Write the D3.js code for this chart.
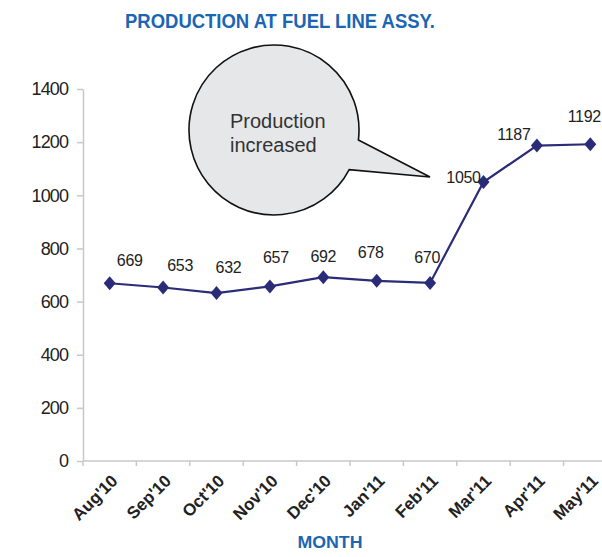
<!DOCTYPE html>
<html><head><meta charset="utf-8">
<script src="https://cdn.jsdelivr.net/npm/d3@7"></script>
<style>
body{margin:0;background:#fff;}
svg{display:block;font-family:"Liberation Sans",Arial,sans-serif;}
</style></head>
<body>
<svg id="chart" width="602" height="557"></svg>
<script>
const months = ["Aug'10","Sep'10","Oct'10","Nov'10","Dec'10","Jan'11","Feb'11","Mar'11","Apr'11","May'11"];
const production = [669,653,632,657,692,678,670,1050,1187,1192];
const yTicks = [0,200,400,600,800,1000,1200,1400];
// label placement offsets (layout only) relative to each marker
const labelDx = [20,17,12,6,0,-6,-3,-20,-23,-6];
const labelDy = [-17,-16,-20,-23,-15,-23,-20,1,-6,-22];

const svg = d3.select("#chart");
const blue = "#1a66b3", navy = "#2a2c78", axisCol = "#c8c8c8";

const x = d3.scaleBand().domain(months).range([83, 617]).padding(0);
const y = d3.scaleLinear().domain([0, 1400]).range([461, 89]);

// title
svg.append("text").attr("x", 280).attr("y", 28).attr("text-anchor","middle")
  .attr("font-weight","bold").attr("font-size",21).attr("fill",blue)
  .attr("textLength",310).attr("lengthAdjust","spacingAndGlyphs")
  .text("PRODUCTION AT FUEL LINE ASSY.");

// y axis
const ya = svg.append("g").attr("transform","translate(83,0)")
  .call(d3.axisLeft(y).tickValues(yTicks).tickFormat(d3.format("d")).tickSize(6).tickSizeOuter(0).tickPadding(9));
ya.select(".domain").attr("stroke",axisCol).attr("stroke-width",1.5);
ya.selectAll(".tick line").attr("stroke",axisCol).attr("stroke-width",1.5);
ya.selectAll(".tick text").attr("font-size",18).attr("fill","#222")
  .attr("letter-spacing","-0.9").attr("font-family","Liberation Sans, Arial, sans-serif");

// x axis
svg.append("line").attr("x1",83).attr("x2",602).attr("y1",y(0)).attr("y2",y(0))
  .attr("stroke",axisCol).attr("stroke-width",1.5);
svg.append("g").selectAll("line").data(months.concat(["__end"])).join("line")
  .attr("x1",d=> d==="__end" ? x.range()[1] : x(d))
  .attr("x2",d=> d==="__end" ? x.range()[1] : x(d))
  .attr("y1",y(0)).attr("y2",y(0)+5).attr("stroke",axisCol).attr("stroke-width",1.5);
svg.append("g").selectAll("text").data(months).join("text")
  .attr("transform",d=>`translate(${x(d)+x.bandwidth()/2+9},${y(0)+21}) rotate(-45)`)
  .attr("text-anchor","end").attr("font-weight","bold").attr("font-size",17)
  .attr("fill","#222").text(d=>d);

// x title
svg.append("text").attr("x",330).attr("y",548).attr("text-anchor","middle")
  .attr("font-weight","bold").attr("font-size",17).attr("fill",blue)
  .attr("textLength",65).attr("lengthAdjust","spacingAndGlyphs").text("MONTH");

// speech bubble
const cx = 274, cy = 130, r = 85;
const a1 = Math.atan2(140-cy, 359-cx), a2 = Math.atan2(170-cy, 350-cx);
const p1 = [cx + r*Math.cos(a1), cy + r*Math.sin(a1)];
const p2 = [cx + r*Math.cos(a2), cy + r*Math.sin(a2)];
const bubble = `M${p1[0]},${p1[1]} L430,177 L${p2[0]},${p2[1]} A${r},${r} 0 1 1 ${p1[0]},${p1[1]} Z`;
svg.append("path").attr("d",bubble).attr("fill","#e6e7e9").attr("stroke","#111").attr("stroke-width",1.6);
svg.append("text").attr("x",230).attr("y",128)
  .attr("font-size",20).attr("fill","#333").text("Production");
svg.append("text").attr("x",230).attr("y",152)
  .attr("font-size",20).attr("fill","#333").text("increased");

// line
const cxF = d => x(d) + x.bandwidth()/2;
const line = d3.line().x((d,i)=>cxF(months[i])).y(d=>y(d));
svg.append("path").datum(production).attr("d",line).attr("fill","none")
  .attr("stroke",navy).attr("stroke-width",2.2);
svg.append("g").selectAll("path").data(production).join("path")
  .attr("d","M0,-7 L6,0 L0,7 L-6,0 Z")
  .attr("transform",(d,i)=>`translate(${cxF(months[i])},${y(d)})`)
  .attr("fill",navy);

// data labels
svg.append("g").selectAll("text").data(production).join("text")
  .attr("x",(d,i)=>cxF(months[i])+labelDx[i]).attr("y",(d,i)=>y(d)+labelDy[i])
  .attr("text-anchor","middle").attr("font-size",16).attr("fill","#222")
  .attr("letter-spacing","-0.3").text(d=>d);
</script>
</body></html>
